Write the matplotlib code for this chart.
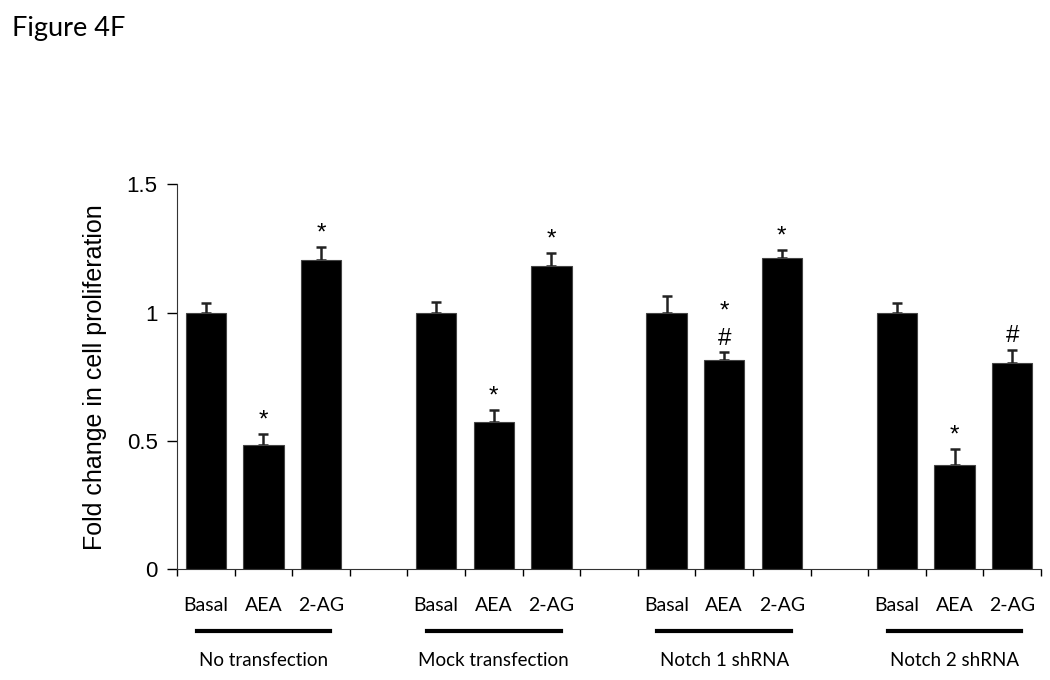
import numpy as np
import matplotlib.pyplot as plt
import matplotlib.transforms as mtransforms

# Data
groups = ['No transfection', 'Mock transfection', 'Notch 1 shRNA', 'Notch 2 shRNA']
treatments = ['Basal', 'AEA', '2-AG']
means = [
    [1.00, 0.482, 1.205],
    [1.00, 0.574, 1.182],
    [1.00, 0.814, 1.214],
    [1.00, 0.405, 0.802],
]
errors = [
    [0.039, 0.044, 0.050],
    [0.040, 0.045, 0.050],
    [0.063, 0.031, 0.029],
    [0.037, 0.062, 0.053],
]
marks = [
    ['', '*', '*'],
    ['', '*', '*'],
    ['', '*\n#', '*'],
    ['', '*', '#'],
]

label_font = ['Lato', 'DejaVu Sans']
arial = ['Liberation Sans', 'DejaVu Sans']

fig = plt.figure(figsize=(10.5, 6.8), dpi=100)
ax = fig.add_axes([0.1686, 0.1632, 0.8228, 0.5658])

slots_per_group = 4
positions = []
all_labels = []
for g in range(len(groups)):
    start = g * slots_per_group
    x = np.arange(3) + start + 0.5
    positions.extend(x)
    all_labels.extend(treatments)
    ax.bar(x, means[g], width=0.7, color='black', edgecolor='#444444', linewidth=0.8, zorder=2)
    # upper error bars only
    ax.errorbar(x, means[g], yerr=[np.zeros(3), errors[g]], fmt='none',
                ecolor='#222222', elinewidth=1.8, capsize=3.5, capthick=1.8, zorder=1)
    for xi, m, e, s in zip(x, means[g], errors[g], marks[g]):
        if s:
            ax.annotate(s, (xi, m + e), xytext=(0, 2), textcoords='offset points',
                        ha='center', va='bottom', fontsize=17.5, family=arial, linespacing=1.3)

ax.set_xlim(0, 15)
ax.set_ylim(0, 1.5)
ax.set_yticks([0, 0.5, 1, 1.5])
ax.set_yticklabels(['0', '0.5', '1', '1.5'], family=arial, fontsize=16)
ax.tick_params(axis='y', direction='out', length=7, width=1, pad=7)

ax.set_xticks(np.arange(0, 16))
ax.set_xticklabels([])
ax.tick_params(axis='x', which='major', direction='out', length=5, width=1)
ax.set_xticks(positions, minor=True)
ax.set_xticklabels(all_labels, minor=True, family=label_font, fontsize=14)
ax.tick_params(axis='x', which='minor', length=0, pad=20)

for side in ['top', 'right']:
    ax.spines[side].set_visible(False)
ax.spines['left'].set_color('#333333')
ax.spines['bottom'].set_color('#333333')

ax.set_ylabel('Fold change in cell proliferation', family=arial, fontsize=18, labelpad=14)

# group underlines and names
trans = mtransforms.blended_transform_factory(ax.transData, ax.transAxes)
for g, name in enumerate(groups):
    c = g * slots_per_group + 1.5
    ax.plot([c - 1.16, c + 1.16], [-0.161, -0.161], color='black', lw=3,
            transform=trans, clip_on=False)
    ax.text(c, -0.237, name, transform=trans, ha='center', va='center',
            family=label_font, fontsize=13.5)

fig.text(0.011, 0.958, 'Figure 4F', ha='left', va='center', family=label_font, fontsize=19.5)

fig.savefig('out.png', dpi=100)
